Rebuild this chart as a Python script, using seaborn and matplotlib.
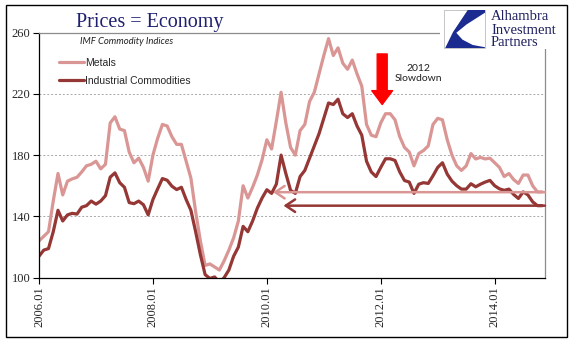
import matplotlib
matplotlib.use("Agg")
import matplotlib.pyplot as plt
import numpy as np
import pandas as pd
import seaborn as sns
from matplotlib.lines import Line2D
from matplotlib.patches import Rectangle, Polygon

# ---------------- data (monthly, 2006.01 .. 2014.11) ----------------
months = [f"{y}.{m:02d}" for y in range(2006, 2015) for m in range(1, 13)][:107]

metals = [124, 127, 130, 150, 168, 154, 163, 164.5, 165.5, 169,
          173, 174, 176, 171, 174, 201, 205, 197, 196, 182,
          175, 178, 172, 163, 180, 191, 200, 199, 192, 187,
          187, 176, 165, 143, 124, 108, 109, 107, 105, 111,
          118, 126, 137, 160, 152, 159, 167, 177, 190, 184,
          202, 221, 201, 185, 180, 196, 200, 215, 221, 233,
          245, 256, 245, 250, 240, 236, 242, 233, 225, 200,
          193, 192, 201, 207, 207, 203, 192, 185, 182, 173,
          181, 183, 186, 200, 204, 203, 190, 180, 173, 170,
          173, 181, 177.5, 178.5, 177.5, 178, 175, 172, 166, 168,
          164, 161.5, 167, 167, 160, 156, 156]

industrial = [114, 118, 119, 130, 144, 137, 141, 142, 141.5, 146,
              147, 150, 148, 150, 153.5, 165.6, 168.4, 162, 159, 149,
              148.3, 150, 147.6, 141, 151, 158, 164.7, 163.6, 159.7, 157.5,
              159, 151, 144, 130, 115, 102, 99.5, 100.5, 97, 100,
              105, 114, 120, 133.5, 130, 137, 145.4, 152, 157.4, 155,
              161, 180, 168, 157, 155, 166, 170, 178, 186, 194,
              204, 214, 213, 216.5, 207, 204.5, 207, 199, 193, 176,
              169, 166, 172, 177.6, 177.6, 176.5, 169, 163.4, 162.4, 155,
              161, 162, 161.5, 166.5, 172, 175, 167.6, 163, 160, 157.8,
              157.8, 161.3, 159.3, 161, 162.4, 163.5, 160, 158, 157, 157.8,
              154.3, 151.7, 156, 154, 149.5, 147, 147]

series_names = ["Metals", "Industrial Commodities"]
tick_labels = ["2006.01", "2008.01", "2010.01", "2012.01", "2014.01"]
y_ticks = [100, 140, 180, 220, 260]

# annotation levels / targets
metals_level, metals_arrow_to = 155.8, "2010.02"
ind_level, ind_arrow_to = 147, "2010.04"
slowdown_month = "2012.01"
slowdown_from, slowdown_to = 246, 213

# ---------------- styling ----------------
c_metals = "#D99694"
c_ind = "#953735"
navy = "#1F2070"

sns.set_theme(style="white")
plt.rcParams["font.family"] = ["Liberation Serif", "DejaVu Serif"]

fig = plt.figure(figsize=(5.77, 3.41), dpi=100)
W, H = 577, 341
def fx(px): return px / W
def fy(py): return 1 - py / H

ax = fig.add_axes([fx(39), fy(277.7), fx(545) - fx(39), fy(32.5) - fy(277.7)])

df = pd.DataFrame({"idx": np.arange(len(months)), "Metals": metals,
                   "Industrial Commodities": industrial})
long = df.melt(id_vars="idx", value_vars=series_names, var_name="series", value_name="value")
sns.lineplot(data=long, x="idx", y="value", hue="series", hue_order=series_names,
             palette={"Metals": c_metals, "Industrial Commodities": c_ind},
             linewidth=2.3, legend=False, ax=ax)

ax.set_xlim(0, 106.6)
ax.set_ylim(100, 260)
ax.set_yticks(y_ticks)
ax.set_yticklabels([str(v) for v in y_ticks], fontsize=9, family="Liberation Serif")
ax.set_xticks([months.index(t) for t in tick_labels])
ax.set_xticklabels(tick_labels, rotation=90, fontsize=9, family="Liberation Serif")
ax.set_xlabel("")
ax.set_ylabel("")
ax.tick_params(axis="both", direction="out", length=4, width=0.8, color="black", pad=2,
               left=True, bottom=True)
ax.yaxis.grid(True, linestyle=(0, (2, 2)), color="#A8A8A8", linewidth=0.7)
ax.xaxis.grid(False)
for s in ["left", "bottom"]:
    ax.spines[s].set_color("black")
    ax.spines[s].set_linewidth(0.9)
for s in ["top", "right"]:
    ax.spines[s].set_color("#8C8C8C")
    ax.spines[s].set_linewidth(0.9)

# horizontal reference arrows
ax.annotate("", xy=(months.index(metals_arrow_to) + 0.3, metals_level), xytext=(106.6, metals_level),
            arrowprops=dict(arrowstyle="->,head_length=0.45,head_width=0.3", color=c_metals,
                            lw=1.8, shrinkA=0, shrinkB=0, mutation_scale=15), zorder=5)
ax.annotate("", xy=(months.index(ind_arrow_to) + 0.5, ind_level), xytext=(106.6, ind_level),
            arrowprops=dict(arrowstyle="->,head_length=0.45,head_width=0.3", color=c_ind,
                            lw=1.8, shrinkA=0, shrinkB=0, mutation_scale=15), zorder=5)

# red slowdown arrow
xs = months.index(slowdown_month) + 0.3
ax.annotate("", xy=(xs, slowdown_to), xytext=(xs, slowdown_from),
            arrowprops=dict(arrowstyle="simple,head_length=0.5,head_width=0.75,tail_width=0.36",
                            color="#FF0000", shrinkA=0, shrinkB=0, mutation_scale=20), zorder=6)
ax.text(79.9, 233.2, "2012\nSlowdown", ha="center", va="center", fontsize=7.5,
        family=["Lato", "DejaVu Sans"], color="#222222", linespacing=1.25)

# legend
handles = [Line2D([], [], color=c_metals, lw=2.3), Line2D([], [], color=c_ind, lw=2.3)]
leg = ax.legend(handles, series_names, loc="upper left", bbox_to_anchor=(fx(59), fy(58)),
                bbox_transform=fig.transFigure, frameon=False, handlelength=2.4,
                handletextpad=0.1, borderpad=0, borderaxespad=0, labelspacing=0.75,
                prop={"family": ["Liberation Sans", "DejaVu Sans"], "size": 7.5})

# titles
fig.text(fx(150), fy(22), "Prices = Economy", ha="center", va="center", fontsize=14.5,
         family="Liberation Serif", color=navy)
fig.text(fx(80), fy(42), "IMF Commodity Indices", ha="left", va="center", fontsize=6.8,
         style="italic", family=["Lato", "DejaVu Sans"], color="#222222")

# logo area (white backdrop covering spines)
fig.patches.append(Rectangle((fx(440), fy(49)), fx(566) - fx(440), fy(6) - fy(49),
                             transform=fig.transFigure, facecolor="white", edgecolor="none",
                             zorder=3))
lx0, ly0, lw_, lh_ = 444, 10, 41, 38
fig.patches.append(Rectangle((fx(lx0), fy(ly0 + lh_)), fx(lw_), lh_ / H,
                             transform=fig.transFigure, facecolor="white", edgecolor="#BBBBBB",
                             lw=0.6, zorder=4))
def lp(u, v):
    return (fx(lx0 + u * lw_), fy(ly0 + (1 - v) * lh_))
shape = [(0.58, 1.0), (1.0, 1.0), (1.0, 0.93), (0.55, 0.62), (0.30, 0.40),
         (0.45, 0.22), (0.70, 0.08), (1.0, 0.02), (1.0, 0.0), (0.03, 0.0), (0.22, 0.42)]
fig.patches.append(Polygon([lp(u, v) for u, v in shape], closed=True,
                           transform=fig.transFigure, facecolor="#1B2B8F", edgecolor="none",
                           zorder=5))
for i, word in enumerate(["Alhambra", "Investment", "Partners"]):
    fig.text(fx(491), fy(17 + 13 * i), word, ha="left", va="center", fontsize=10.5,
             family="Liberation Serif", color="#1F2060", zorder=6)

# outer frame
fig.patches.append(Rectangle((fx(6), fy(337)), fx(567) - fx(6), fy(5) - fy(337),
                             transform=fig.transFigure, facecolor="none", edgecolor="black",
                             lw=1.0, zorder=7))

fig.savefig("out.png", dpi=100)
